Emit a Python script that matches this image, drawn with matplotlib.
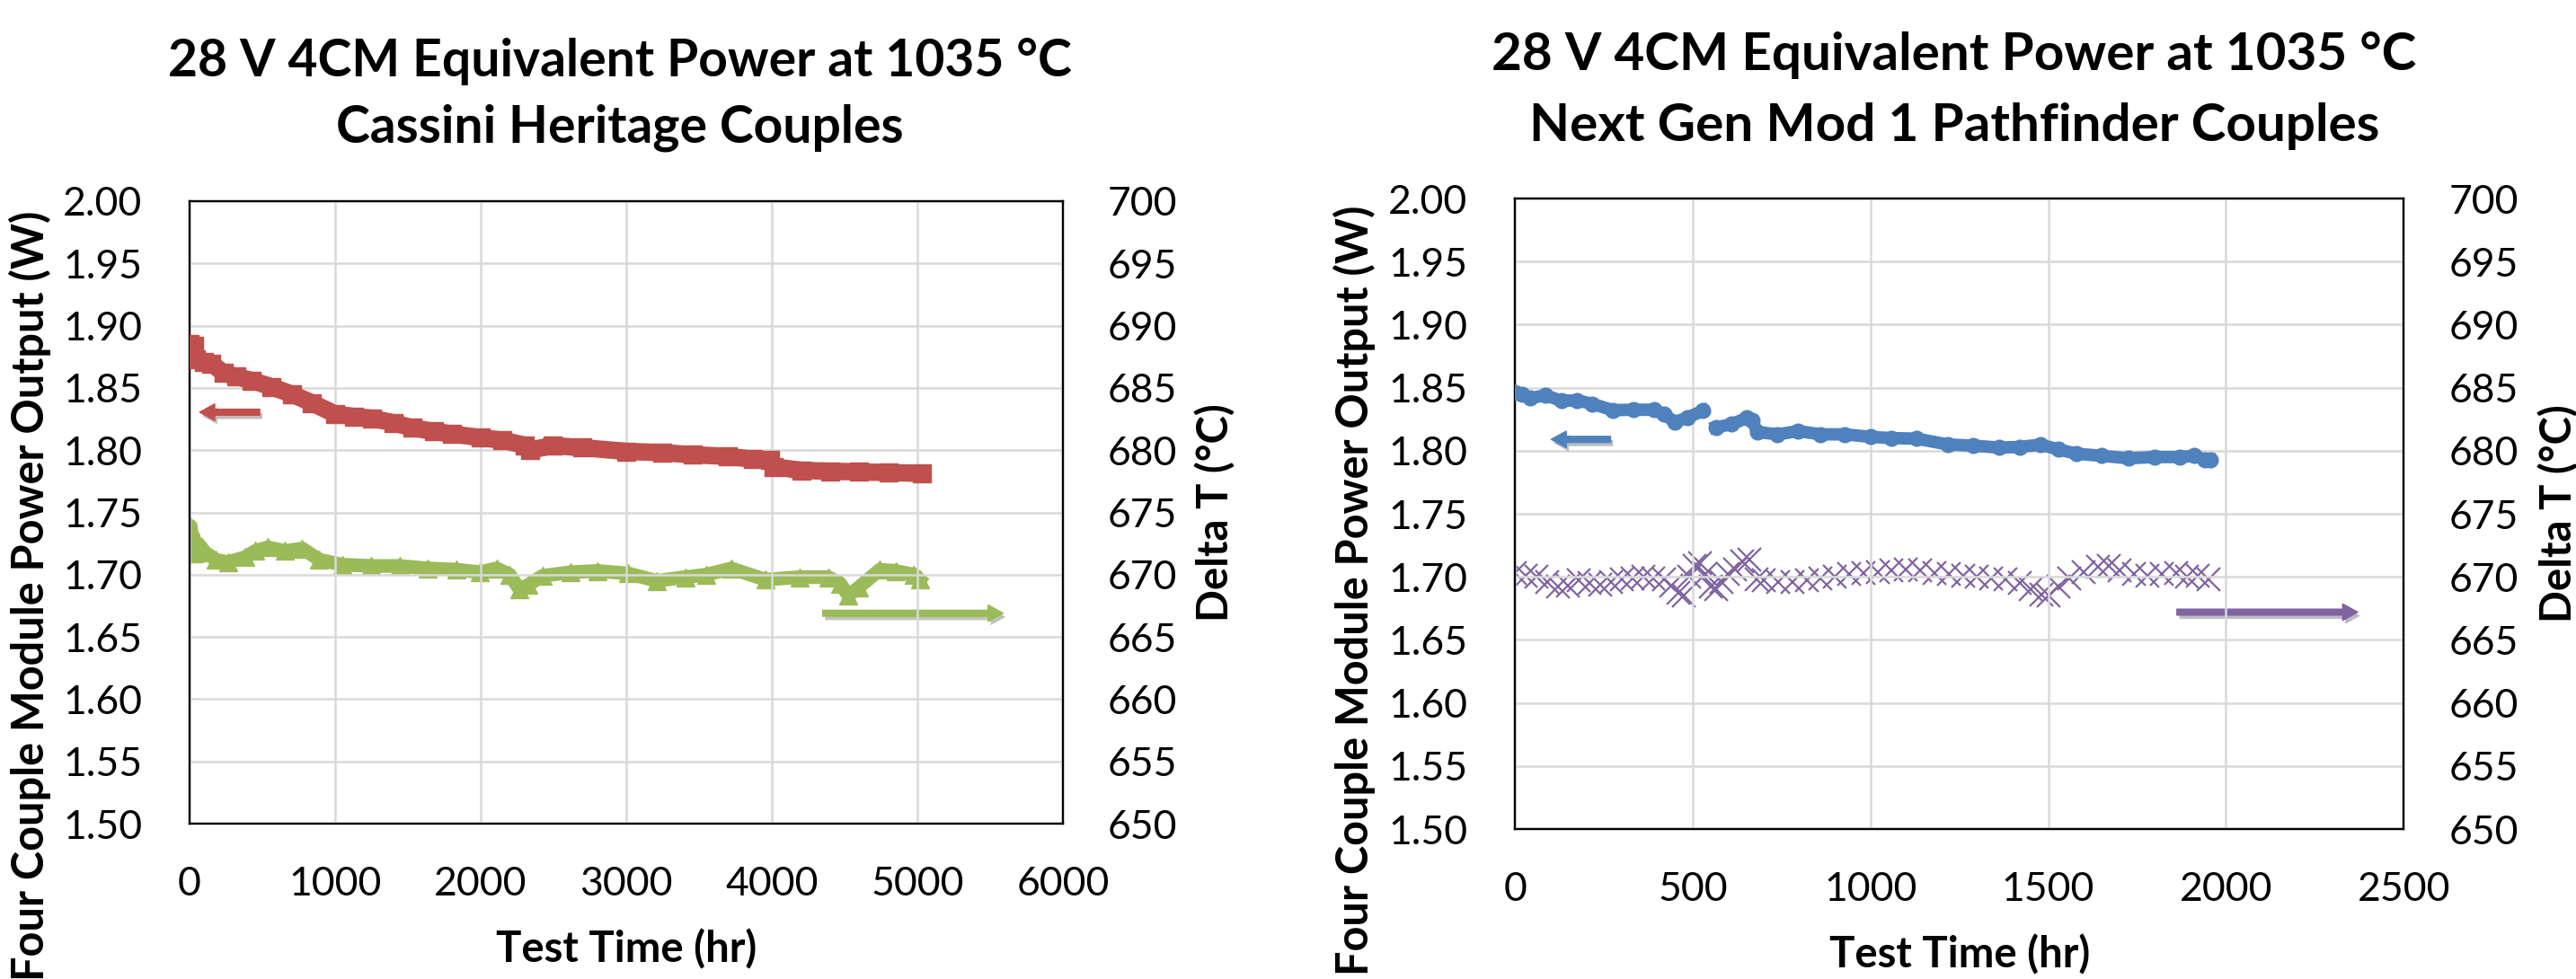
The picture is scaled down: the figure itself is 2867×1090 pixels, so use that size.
import numpy as np
import matplotlib
matplotlib.use('Agg')
import matplotlib.pyplot as plt
import matplotlib.patheffects as pe

plt.rcParams['font.family'] = ['Lato', 'DejaVu Sans']

# ---- Cassini heritage couples (left chart) ----
cas_p_time = [0, 28, 41, 100, 151, 234, 320, 427, 560, 702, 840, 1000, 1130, 1253, 1400,
              1529, 1680, 1804, 2000, 2150, 2300, 2340, 2493, 2700, 3000, 3250, 3457, 3700,
              3871, 3990, 4010, 4204, 4400, 4597, 4800, 5029]
cas_power = [1.885, 1.884, 1.873, 1.871, 1.8695, 1.862, 1.859, 1.856, 1.851, 1.845, 1.838,
             1.829, 1.827, 1.8256, 1.822, 1.818, 1.815, 1.813, 1.810, 1.808, 1.804, 1.800,
             1.8037, 1.802, 1.799, 1.798, 1.7963, 1.795, 1.7927, 1.792, 1.7866, 1.7838,
             1.783, 1.7826, 1.782, 1.7814]

cas_t_time = [0, 8, 28, 60, 106, 180, 263, 381, 450, 538, 656, 774, 891, 1049, 1246, 1442,
              1638, 1835, 1992, 2110, 2200, 2267, 2330, 2424, 2620, 2800, 3013, 3209, 3406,
              3550, 3721, 3956, 4192, 4389, 4470, 4527, 4600, 4743, 4850, 4978, 5017]
cas_dt = [672.0, 673.9, 671.7, 672.5, 671.8, 671.2, 671.0, 671.4, 671.9, 672.2, 671.9, 672.1,
          671.2, 670.8, 670.7, 670.7, 670.5, 670.4, 670.2, 670.5, 670.0, 668.8, 669.2, 669.9,
          670.2, 670.3, 670.1, 669.5, 669.8, 670.0, 670.5, 669.6, 669.8, 669.8, 669.3, 668.3,
          669.0, 670.4, 670.3, 670.0, 669.6]

# ---- Next Gen Mod 1 pathfinder couples (right chart) ----
ng_p_time = [0, 20, 43, 86, 130, 174, 217, 275, 333, 391, 420, 449, 486, 529, 545,
             565, 609, 652, 668, 681, 739, 797, 860, 928, 1000, 1060, 1130, 1217, 1290,
             1362, 1420, 1478, 1530, 1580, 1650, 1725, 1800, 1870, 1910, 1942, 1955]
ng_power = [1.8464, 1.845, 1.8417, 1.844, 1.8396, 1.840, 1.8372, 1.8322, 1.8325, 1.8325,
            1.829, 1.8227, 1.8263, 1.8318, np.nan, 1.8185, 1.821, 1.826, 1.824, 1.8149,
            1.813, 1.8156, 1.813, 1.813, 1.811, 1.810, 1.8096, 1.805, 1.804, 1.8025, 1.803,
            1.8048, 1.801, 1.7976, 1.796, 1.794, 1.795, 1.795, 1.796, 1.7928, 1.793]

ng_t_time = [0, 30, 60, 90, 120, 150, 180, 210, 240, 270, 300, 330, 360, 390, 420, 440, 460,
             475, 490, 505, 520, 535, 550, 565, 580, 600, 620, 640, 660, 680, 700, 740, 780,
             820, 860, 900, 940, 980, 1020, 1060, 1100, 1140, 1180, 1220, 1260, 1300, 1340,
             1380, 1420, 1450, 1480, 1500, 1530, 1560, 1600, 1640, 1670, 1700, 1740, 1780,
             1820, 1860, 1890, 1920, 1950]
ng_dt = [670.3, 670.1, 670.0, 669.6, 669.2, 669.3, 669.7, 669.5, 669.4, 669.6, 669.8, 669.9,
         670.0, 669.9, 669.8, 669.3, 668.7, 668.5, 670.0, 670.9, 671.1, 670.2, 669.2, 669.0,
         669.6, 670.2, 670.6, 671.2, 671.4, 669.8, 669.7, 669.6, 669.6, 669.7, 669.9, 670.0,
         670.2, 670.3, 670.4, 670.5, 670.6, 670.5, 670.3, 670.2, 670.1, 670.0, 669.9, 669.8,
         669.5, 669.0, 668.6, 668.5, 669.2, 669.9, 670.4, 670.8, 670.9, 670.5, 670.2, 670.1,
         670.2, 670.3, 670.0, 670.1, 669.8]

title1 = '28 V 4CM Equivalent Power at 1035 \u00b0C'
left_title2 = 'Cassini Heritage Couples'
right_title2 = 'Next Gen Mod 1 Pathfinder Couples'
ylab = 'Four Couple Module Power Output (W)'
ylab2 = 'Delta T (\u00b0C)'
xlab = 'Test Time (hr)'

RED = '#C0504D'
GREEN = '#9BBB59'
BLUE = '#4F81BD'
PURPLE = '#8064A2'
GRID = '#D9D9D9'

fig = plt.figure(figsize=(28.67, 10.9), dpi=100)


def setup(ax, xmax, xstep):
    ax.set_xlim(0, xmax)
    ax.set_xticks(np.arange(0, xmax + 1, xstep))
    ax.set_ylim(1.5, 2.0)
    ax.set_yticks(np.arange(1.5, 2.001, 0.05))
    ax.yaxis.set_major_formatter(matplotlib.ticker.FormatStrFormatter('%.2f'))
    ax.grid(True, color=GRID, linewidth=1.8)
    ax.set_axisbelow(True)
    for s in ax.spines.values():
        s.set_linewidth(1.6)
        s.set_color('black')
    ax.tick_params(axis='y', length=0, pad=38, labelsize=32)
    ax.tick_params(axis='x', length=0, pad=34, labelsize=32)
    ax.set_xlabel(xlab, fontsize=34, fontweight='bold', va='center')
    ax.set_ylabel(ylab, fontsize=35, fontweight='bold', ha='right', va='center')
    ax2 = ax.twinx()
    ax2.set_ylim(650, 700)
    ax2.set_yticks(np.arange(650, 701, 5))
    ax2.tick_params(axis='y', length=0, pad=36, labelsize=32)
    ax2.set_ylabel(ylab2, fontsize=34, fontweight='bold', va='center')
    ax2.yaxis.set_label_coords(1.175, 0.5)
    for s in ax2.spines.values():
        s.set_linewidth(1.6)
    return ax2


def arrow(ax, tail, head, color):
    ax.annotate('', xy=head, xytext=tail,
                arrowprops=dict(arrowstyle='simple,head_length=0.55,head_width=0.6,tail_width=0.22',
                                color=color, mutation_scale=22, shrinkA=0, shrinkB=0,
                                path_effects=[pe.withSimplePatchShadow(offset=(2, -3), alpha=0.3)]))


# left chart
axL = fig.add_axes([0.0736, 0.1587, 0.3390, 0.6358])
axL2 = setup(axL, 6000, 1000)
axL.yaxis.set_label_coords(-0.183, 0.984)
axL.xaxis.set_label_coords(0.5, -0.202)
axL2.plot(cas_t_time, cas_dt, color=GREEN, marker='^', markersize=15, linewidth=11,
          zorder=3)
axL.set_zorder(axL2.get_zorder() + 1)
axL.patch.set_visible(False)
axL.plot(cas_p_time, cas_power, color=RED, marker='s', markersize=14, linewidth=14,
         solid_joinstyle='miter', zorder=3)
arrow(axL, (482, 1.8305), (69, 1.8305), RED)
arrow(axL2, (4350, 666.9), (5590, 666.9), GREEN)
fig.text(690 / 2867, 1 - 85 / 1090, title1, ha='center', va='baseline', fontsize=41,
         fontweight='bold')
fig.text(690 / 2867, 1 - 158 / 1090, left_title2, ha='center', va='baseline', fontsize=41,
         fontweight='bold')

# right chart
axR = fig.add_axes([0.5881, 0.1532, 0.3450, 0.6440])
axR2 = setup(axR, 2500, 500)
axR.yaxis.set_label_coords(-0.181, 0.989)
axR.xaxis.set_label_coords(0.5, -0.199)
axR.set_zorder(axR2.get_zorder() + 1)
axR.patch.set_visible(False)
axR2.plot(ng_t_time, ng_dt, color=PURPLE, marker='x', markersize=19, markeredgewidth=1.6,
          linestyle='none', zorder=3)
axR.plot(ng_p_time, ng_power, color=BLUE, marker='o', markersize=12, linewidth=10,
         zorder=3)
arrow(axR, (269, 1.809), (102, 1.809), BLUE)
arrow(axR2, (1862, 667.2), (2371, 667.2), PURPLE)
fig.text(2175 / 2867, 1 - 78 / 1090, title1, ha='center', va='baseline', fontsize=42,
         fontweight='bold')
fig.text(2175 / 2867, 1 - 157 / 1090, right_title2, ha='center', va='baseline', fontsize=42,
         fontweight='bold')

fig.savefig('out.png', dpi=100)
